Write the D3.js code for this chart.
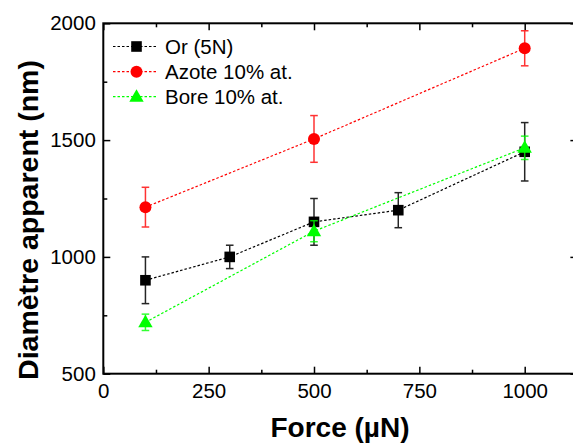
<!DOCTYPE html>
<html><head><meta charset="utf-8">
<script src="https://cdn.jsdelivr.net/npm/d3@7"></script>
<style>body{margin:0;background:#fff}svg{display:block}text{font-family:Arial,"Liberation Sans",sans-serif}</style>
</head><body>
<script>
const seriesNames = ["Or (5N)", "Azote 10% at.", "Bore 10% at."];
const orForce = [100, 300, 500, 700, 1000];
const orDiam  = [900, 1000, 1150, 1200, 1450];
const orErr   = [100, 50, 100, 75, 125];
const azForce = [100, 500, 1000];
const azDiam  = [1213, 1505, 1893];
const azErr   = [85, 100, 75];
const boForce = [100, 500, 1000];
const boDiam  = [720, 1110, 1467];
const boErr   = [35, 45, 50];
const xTicks = [0, 250, 500, 750, 1000];
const yTicks = [500, 1000, 1500, 2000];
const colors = ["#000000", "#ff0000", "#00ff00"];
const shapes = ["square", "circle", "triangle"];

const W = 573, H = 444;
const L = 103.3, T = 23.3, B = 373.7;
const svg = d3.select("body").append("svg").attr("width", W).attr("height", H);
const x = d3.scaleLinear().domain([0, 1125]).range([L, L + 1125 * (421.4 / 1000)]);
const y = d3.scaleLinear().domain([500, 2000]).range([B, T]);
const R = x(1125);

const g = svg.append("g");
g.append("g").attr("transform", `translate(0,${B})`)
  .call(d3.axisBottom(x).tickValues(xTicks).tickSize(-7).tickPadding(9.5).tickFormat(d3.format("d")));
g.append("g").attr("transform", `translate(${L},0)`)
  .call(d3.axisLeft(y).tickValues(yTicks).tickSize(-7).tickPadding(7.5).tickFormat(d3.format("d")));
g.append("g").attr("transform", `translate(0,${T})`)
  .call(d3.axisTop(x).tickValues(xTicks).tickSize(-7).tickFormat(""));
g.append("g").attr("transform", `translate(${R},0)`)
  .call(d3.axisRight(y).tickValues(yTicks).tickSize(-7).tickFormat(""));
const xMinor = [125, 375, 625, 875, 1125];
const yMinor = [750, 1250, 1750];
g.append("g").attr("transform", `translate(0,${B})`).call(d3.axisBottom(x).tickValues(xMinor).tickSize(-4).tickFormat(""));
g.append("g").attr("transform", `translate(0,${T})`).call(d3.axisTop(x).tickValues(xMinor).tickSize(-4).tickFormat(""));
g.append("g").attr("transform", `translate(${L},0)`).call(d3.axisLeft(y).tickValues(yMinor).tickSize(-4).tickFormat(""));
g.append("g").attr("transform", `translate(${R},0)`).call(d3.axisRight(y).tickValues(yMinor).tickSize(-4).tickFormat(""));
g.selectAll("path.domain").remove();
g.selectAll(".tick line").attr("stroke", "#000").attr("stroke-width", 1.5);
svg.append("rect").attr("x", L).attr("y", T).attr("width", R - L).attr("height", B - T)
  .attr("fill", "none").attr("stroke", "#000").attr("stroke-width", 2);
g.selectAll(".tick text").attr("font-size", 20.5).attr("fill", "#000")
  .attr("font-family", "Arial, 'Liberation Sans', sans-serif");

svg.append("text").attr("x", 340).attr("y", 437).attr("text-anchor", "middle")
  .attr("font-size", 28).attr("font-weight", "bold").text("Force (µN)");
svg.append("text").attr("transform", `translate(38,220) rotate(-90)`).attr("text-anchor", "middle")
  .attr("font-size", 28.5).attr("font-weight", "bold").text("Diamètre apparent (nm)");

function marker(sel, shape, color) {
  if (shape === "square") sel.append("rect").attr("x", -5.3).attr("y", -5.3).attr("width", 10.6).attr("height", 10.6).attr("fill", color);
  else if (shape === "circle") sel.append("circle").attr("r", 6).attr("fill", color);
  else sel.append("path").attr("d", "M0,-7.5L7.2,5L-7.2,5Z").attr("fill", color);
}

const data = [
  {f: orForce, d: orDiam, e: orErr},
  {f: azForce, d: azDiam, e: azErr},
  {f: boForce, d: boDiam, e: boErr}
];
const line = d3.line().x(p => x(p[0])).y(p => y(p[1]));
data.forEach((s, i) => {
  const pts = s.f.map((f, j) => [f, s.d[j], s.e[j]]);
  const sg = svg.append("g");
  sg.append("path").attr("d", line(pts)).attr("fill", "none").attr("stroke", colors[i])
    .attr("stroke-width", 1.2).attr("stroke-dasharray", "2.5,2");
  pts.forEach(p => {
    const eg = sg.append("g").attr("stroke", colors[i]).attr("stroke-width", 1.5).attr("opacity", i === 0 ? 0.85 : 0.8);
    eg.append("line").attr("x1", x(p[0])).attr("x2", x(p[0])).attr("y1", y(p[1] - p[2])).attr("y2", y(p[1] + p[2]));
    eg.append("line").attr("x1", x(p[0]) - 3.8).attr("x2", x(p[0]) + 3.8).attr("y1", y(p[1] - p[2])).attr("y2", y(p[1] - p[2]));
    eg.append("line").attr("x1", x(p[0]) - 3.8).attr("x2", x(p[0]) + 3.8).attr("y1", y(p[1] + p[2])).attr("y2", y(p[1] + p[2]));
    marker(sg.append("g").attr("transform", `translate(${x(p[0])},${y(p[1])})`), shapes[i], colors[i]);
  });
});

const legRows = [46.5, 71.7, 96.7];
seriesNames.forEach((n, i) => {
  const lg = svg.append("g").attr("transform", `translate(0,${legRows[i]})`);
  lg.append("line").attr("x1", 113).attr("x2", 157).attr("stroke", colors[i]).attr("stroke-width", 1.2).attr("stroke-dasharray", "2.5,2");
  marker(lg.append("g").attr("transform", "translate(136.5,0)"), shapes[i], colors[i]);
  lg.append("text").attr("x", 165).attr("y", 7.5).attr("font-size", 20.5).text(n);
});
</script>
</body></html>
